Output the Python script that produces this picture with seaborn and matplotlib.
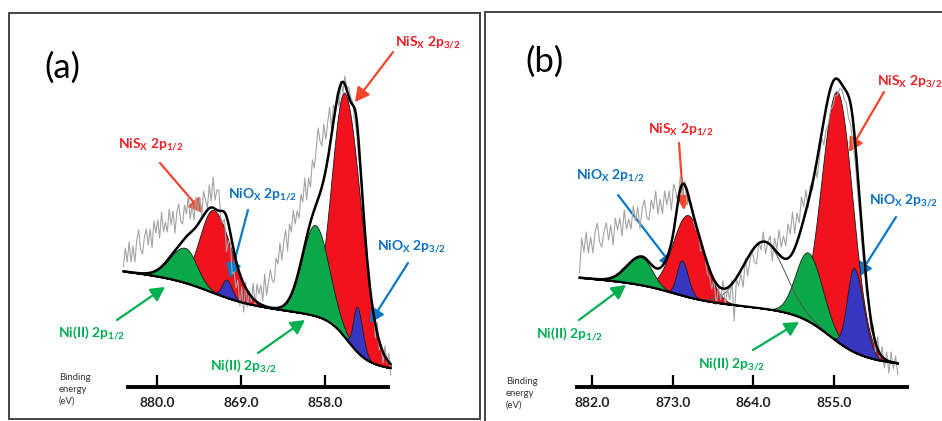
import numpy as np
import matplotlib
matplotlib.use("Agg")
import matplotlib.pyplot as plt
import seaborn as sns
from matplotlib.patches import Rectangle

sns.set_style("white")
plt.rcParams['font.family'] = ['Lato', 'DejaVu Sans']
plt.rcParams['mathtext.fontset'] = 'custom'
plt.rcParams['mathtext.rm'] = 'Lato:bold'
plt.rcParams['mathtext.bf'] = 'Lato:bold'
plt.rcParams['mathtext.default'] = 'regular'

W, H = 942, 421

# ------------------------------------------------------------------ data (a)
a_ticks = [880.0, 869.0, 858.0]
a_raw_range = (884.4, 849.4)
a_raw = [120, 139, 125, 145, 125, 141, 125, 147, 157, 138, 133, 150, 158, 142,
         158, 139, 166, 154, 167, 149, 175, 155, 165, 155, 178, 162, 176, 154,
         175, 183, 166, 163, 182, 173, 191, 168, 182, 167, 190, 176, 190, 171,
         196, 187, 179, 202, 186, 210, 187, 197, 197, 169, 164, 168, 135, 146,
         144, 113, 115, 99, 107, 81, 100, 75, 105, 80, 96, 85, 104, 80, 103, 93,
         102, 86, 113, 92, 105, 117, 106, 105, 129, 123, 144, 127, 145, 157, 136,
         163, 155, 177, 163, 176, 169, 193, 185, 209, 187, 209, 200, 227, 219,
         238, 259, 246, 241, 263, 248, 264, 280, 259, 282, 276, 294, 280, 306,
         294, 311, 299, 300, 290, 286, 269, 257, 235, 219, 199, 170, 152, 125,
         112, 82, 81, 49, 65, 37, 42, 24, 41, 24, 34, 12]
a_kind = ["NiS", "NiS", "NiII", "NiII", "NiO", "NiO"]
a_center = [855.4, 872.6, 859.3, 876.3, 853.8, 870.9]
a_amp = [244, 83, 91, 35, 45, 18]
a_sig_hi = [1.7, 1.8, 1.7, 2.0, 0.5, 0.6]
a_sig_lo = [2.1, 2.3, 1.8, 1.5, 0.7, 0.7]
a_bg_end = (849.1, 18)
a_bg_slope = 0.93
a_step_h = [20, 45]
a_step_c = [873.0, 855.0]
a_step_w = [2.5, 1.3]

# ------------------------------------------------------------------ data (b)
b_ticks = [882.0, 873.0, 864.0, 855.0]
b_raw_range = (883.4, 847.9)
b_raw = [114, 149, 135, 155, 134, 150, 134, 155, 164, 145, 140, 156, 164, 147,
         162, 142, 169, 157, 169, 151, 177, 158, 168, 158, 181, 166, 180, 158,
         179, 187, 170, 167, 187, 178, 196, 173, 188, 173, 196, 182, 196, 177,
         203, 195, 188, 211, 192, 206, 182, 188, 182, 164, 157, 156, 136, 137,
         132, 113, 111, 98, 107, 82, 100, 87, 106, 82, 98, 87, 107, 66, 108, 101,
         113, 100, 129, 111, 126, 137, 125, 123, 145, 137, 155, 133, 145, 151,
         126, 149, 138, 157, 140, 151, 141, 163, 153, 175, 153, 174, 164, 190,
         180, 197, 179, 202, 197, 221, 209, 229, 249, 242, 257, 263, 277, 281,
         291, 292, 298, 298, 288, 284, 269, 262, 242, 225, 196, 173, 140, 120,
         94, 85, 55, 62, 35, 50, 29, 40, 19, 35, 14, 35, 18, 31, 12]
b_kind = ["NiS", "NiS", "NiII", "NiII", "NiO", "NiO"]
b_center = [854.65, 871.3, 857.9, 876.5, 852.8, 872.0]
b_amp = [250, 82, 68.5, 28, 84, 35]
b_sig_hi = [1.74, 1.7, 1.4, 1.6, 0.75, 0.55]
b_sig_lo = [1.7, 1.7, 1.6, 1.2, 1.05, 0.7]
b_sat = (862.8, 67, 2.3)
b_bg_end = (847.9, 23)
b_bg_slope = 0.8
b_step_h = [14, 44]
b_step_c = [873.0, 855.5]
b_step_w = [2.0, 1.8]

fill_colors = {"NiS": "#f0121c", "NiII": "#0aa848", "NiO": "#3636c0"}
draw_order = ["NiS", "NiII", "NiO"]

RED_T, RED_A = "#f01e23", "#f5452a"
BLUE_T, BLUE_A = "#0a70c0", "#0a78c8"
GREEN_T, GREEN_A = "#00b050", "#00b050"


def split_gauss(E, c, A, s_hi, s_lo):
    s = np.where(E >= c, s_hi, s_lo)
    return A * np.exp(-0.5 * ((E - c) / s) ** 2)


def background(E, end, slope, hs, cs, ws):
    bg = end[1] + slope * (E - end[0])
    for h, c, w in zip(hs, cs, ws):
        bg = bg + h / (1.0 + np.exp(-(E - c) / w))
    return bg


def fpx(x, y):
    return (x / W, 1 - y / H)


fig = plt.figure(figsize=(W / 100, H / 100), dpi=100)

# panel frames
fig.add_artist(Rectangle(fpx(9, 419), (480 - 9) / W, (419 - 13) / H,
                         transform=fig.transFigure, fill=False,
                         edgecolor="#444444", lw=1.4))
fig.add_artist(Rectangle(fpx(485, 440), (960 - 485) / W, (440 - 12) / H,
                         transform=fig.transFigure, fill=False,
                         edgecolor="#444444", lw=1.4))


def make_axes(px_left, px_right, ref_px, ref_E, px_per_eV, spine_px):
    y_bot, y_top = 387, 30
    ax = fig.add_axes([px_left / W, (H - y_bot) / H,
                       (px_right - px_left) / W, (y_bot - y_top) / H])
    e_left = ref_E + (ref_px - px_left) / px_per_eV
    e_right = ref_E - (px_right - ref_px) / px_per_eV
    ax.set_xlim(e_left, e_right)
    ax.set_ylim(0, y_bot - y_top)
    ax.set_facecolor("none")
    for s in ["left", "top", "right"]:
        ax.spines[s].set_visible(False)
    ax.spines["bottom"].set_linewidth(2.8)
    ax.spines["bottom"].set_color("black")
    b0 = ref_E + (ref_px - spine_px[0]) / px_per_eV
    b1 = ref_E - (spine_px[1] - ref_px) / px_per_eV
    ax.spines["bottom"].set_bounds(b0, b1)
    ax.set_yticks([])
    ax.tick_params(axis="x", bottom=True, direction="in", length=8.5,
                   width=1.6, colors="black", pad=7.5, labelsize=10)
    return ax


def draw_panel(ax, raw, raw_range, kind, center, amp, s_hi, s_lo,
               bg_end, slope, sh, sc, sw, ticks, sat=None):
    E = np.linspace(raw_range[0], raw_range[1], 900)
    bg = background(E, bg_end, slope, sh, sc, sw)
    comps = [split_gauss(E, c, A, h, l)
             for c, A, h, l in zip(center, amp, s_hi, s_lo)]
    total = bg + np.sum(comps, axis=0)
    for k in draw_order:
        for comp, kk in zip(comps, kind):
            if kk == k:
                ax.fill_between(E, bg, bg + comp, color=fill_colors[k],
                                edgecolor="#1a1a1a", lw=0.6, zorder=2)
    if sat is not None:
        sat_c = split_gauss(E, sat[0], sat[1], sat[2], sat[2])
        total = total + sat_c
        ax.plot(E, bg + sat_c, color="#555555", lw=0.7, zorder=3)
    E_raw = np.linspace(raw_range[0], raw_range[1], len(raw))
    sns.lineplot(x=E_raw, y=raw, ax=ax, color="#a3a3a3", lw=0.8, zorder=4)
    sns.lineplot(x=E, y=bg, ax=ax, color="black", lw=1.6, zorder=5)
    sns.lineplot(x=E, y=total, ax=ax, color="black", lw=1.8, zorder=6)
    ax.set_xticks(ticks)
    ax.set_xticklabels([f"{t:.1f}" for t in ticks], fontweight="bold",
                       color="#222222")
    ax.set_xlabel("")
    ax.set_ylabel("")


ax_a = make_axes(110, 400, 157, 880.0, 7.636, (128, 388))
draw_panel(ax_a, a_raw, a_raw_range, a_kind, a_center, a_amp, a_sig_hi,
           a_sig_lo, a_bg_end, a_bg_slope, a_step_h, a_step_c, a_step_w,
           a_ticks)

ax_b = make_axes(570, 910, 592, 882.0, 8.97, (577, 907))
draw_panel(ax_b, b_raw, b_raw_range, b_kind, b_center, b_amp, b_sig_hi,
           b_sig_lo, b_bg_end, b_bg_slope, b_step_h, b_step_c, b_step_w,
           b_ticks, sat=b_sat)

# ------------------------------------------------------------------ labels
NIS_32 = r"NiS$_{\mathregular{X}}$ 2p$_{\mathregular{3/2}}$"
NIS_12 = r"NiS$_{\mathregular{X}}$ 2p$_{\mathregular{1/2}}$"
NIO_32 = r"NiO$_{\mathregular{X}}$ 2p$_{\mathregular{3/2}}$"
NIO_12 = r"NiO$_{\mathregular{X}}$ 2p$_{\mathregular{1/2}}$"
NI2_32 = r"Ni(II) 2p$_{\mathregular{3/2}}$"
NI2_12 = r"Ni(II) 2p$_{\mathregular{1/2}}$"

labels = [
    # text, color, text_x, text_y, arrow color, tail, tip
    (NIS_32, RED_T, 395, 43, RED_A, (393, 52), (355, 102)),
    (NIS_12, RED_T, 118, 145, RED_A, (160, 163), (203, 213)),
    (NIO_12, BLUE_T, 228, 195, BLUE_A, (248, 210), (230, 278)),
    (NIO_32, BLUE_T, 377, 247, BLUE_A, (408, 263), (370, 323)),
    (NI2_12, GREEN_T, 58, 333, GREEN_A, (117, 320), (165, 287)),
    (NI2_32, GREEN_T, 210, 366, GREEN_A, (258, 353), (305, 320)),
    (NIS_32, RED_T, 877, 82, RED_A, (884, 92), (849, 152)),
    (NIS_12, RED_T, 648, 130, RED_A, (679, 143), (684, 210)),
    (NIO_12, BLUE_T, 576, 176, BLUE_A, (618, 195), (674, 268)),
    (NIO_32, BLUE_T, 869, 201, BLUE_A, (896, 217), (858, 277)),
    (NI2_12, GREEN_T, 536, 334, GREEN_A, (579, 320), (626, 285)),
    (NI2_32, GREEN_T, 698, 364, GREEN_A, (753, 350), (799, 322)),
]
for txt, tc, tx, ty, ac, tail, tip in labels:
    fig.text(*fpx(tx, ty), txt, color=tc, fontsize=10, fontweight="bold",
             ha="left", va="center")
    ax_a.annotate("", xy=fpx(*tip), xytext=fpx(*tail),
                  xycoords="figure fraction", textcoords="figure fraction",
                  annotation_clip=False,
                  arrowprops=dict(arrowstyle="-|>,head_length=0.6,head_width=0.32",
                                  color=ac, lw=1.6, mutation_scale=14,
                                  shrinkA=0, shrinkB=0))

fig.text(*fpx(44, 68), "(a)", fontsize=25, ha="left", va="center",
         color="black")
fig.text(*fpx(525, 62), "(b)", fontsize=25, ha="left", va="center",
         color="black")
fig.text(*fpx(59, 389), "Binding\nenergy\n(eV)", fontsize=6.8,
         ha="left", va="center", color="#333333", linespacing=1.4)
fig.text(*fpx(506, 393), "Binding\nenergy\n(eV)", fontsize=6.8,
         ha="left", va="center", color="#333333", linespacing=1.4)

fig.savefig("out.png", dpi=100)
